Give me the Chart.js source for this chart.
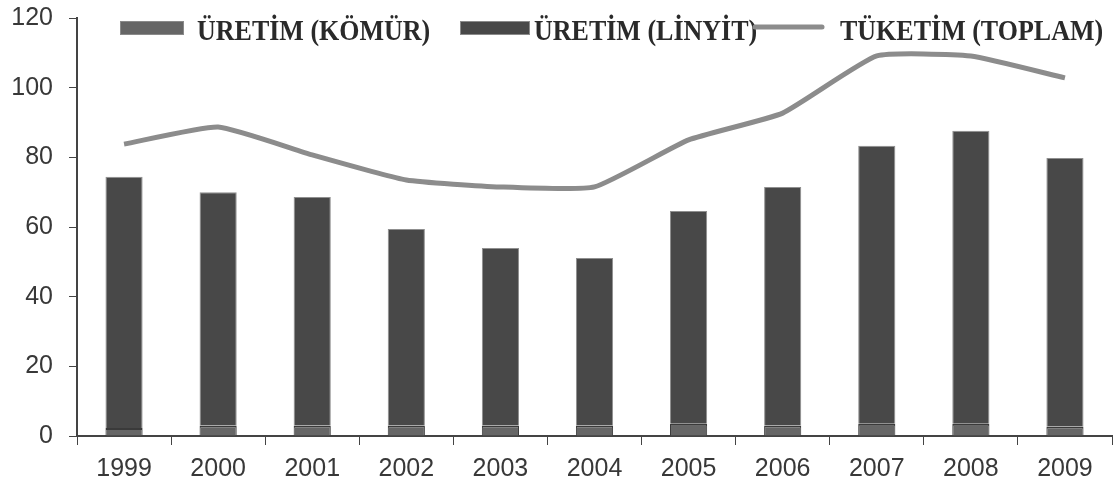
<!DOCTYPE html>
<html>
<head>
<meta charset="utf-8">
<script src="https://cdn.jsdelivr.net/npm/chart.js@4/dist/chart.umd.min.js"></script>
<style>
html,body{margin:0;padding:0;background:#fff;}
#wrap{width:1118px;height:493px;position:relative;}
</style>
</head>
<body>
<div id="wrap"><canvas id="c" width="1118" height="493"></canvas></div>
<script>
const years = ['1999','2000','2001','2002','2003','2004','2005','2006','2007','2008','2009'];
const uretimKomur = [2.3, 3.0, 3.0, 3.0, 3.0, 3.0, 3.5, 3.0, 3.5, 3.5, 2.7];
const uretimLinyit = [72.1, 67.0, 65.6, 56.4, 51.0, 48.1, 61.1, 68.5, 79.8, 84.1, 77.1];
const tuketimToplam = [83.8, 88.7, 80.7, 73.5, 71.5, 71.5, 85.0, 92.7, 109.1, 109.1, 102.8];
const yTicks = [0, 20, 40, 60, 80, 100, 120];

const legendPlugin = {
  id: 'customLegend',
  afterDraw(chart) {
    const ctx = chart.ctx;
    const ds = chart.data.datasets;
    const items = [
      {x: 120, w: 64, tx: 197, type: 'box'},
      {x: 460, w: 70, tx: 534, type: 'box'},
      {x: 755, w: 67, tx: 840, type: 'line'}
    ];
    ctx.save();
    items.forEach((it, i) => {
      const d = ds[i];
      if (it.type === 'box') {
        ctx.fillStyle = d.backgroundColor;
        ctx.fillRect(it.x, 21, it.w, 14);
        ctx.strokeStyle = '#8a8a8a';
        ctx.lineWidth = 1;
        ctx.strokeRect(it.x + 0.5, 21.5, it.w - 1, 13);
      } else {
        ctx.strokeStyle = d.borderColor;
        ctx.lineWidth = 5;
        ctx.lineCap = 'round';
        ctx.beginPath();
        ctx.moveTo(it.x, 27);
        ctx.lineTo(it.x + it.w, 27);
        ctx.stroke();
      }
      ctx.save();
      ctx.font = 'bold 26px "Liberation Serif", "DejaVu Serif", serif';
      ctx.textBaseline = 'alphabetic';
      ctx.textAlign = 'left';
      ctx.fillStyle = '#2a2a2a';
      ctx.translate(it.tx, 40);
      ctx.scale(1, 1.15);
      ctx.fillText(d.label, 0, 0);
      ctx.restore();
    });
    ctx.restore();
  }
};

new Chart(document.getElementById('c'), {
  type: 'bar',
  data: {
    labels: years,
    datasets: [
      {
        label: 'ÜRETİM (KÖMÜR)',
        data: uretimKomur,
        backgroundColor: '#666666',
        borderColor: '#3a3a3a',
        borderWidth: {top: 2, left: 1, right: 1, bottom: 0},
        stack: 's',
        barPercentage: 0.395,
        categoryPercentage: 1,
        order: 2
      },
      {
        label: 'ÜRETİM (LİNYİT)',
        data: uretimLinyit,
        backgroundColor: '#484848',
        borderColor: '#8f8f8f',
        borderWidth: {top: 1, left: 1, right: 1, bottom: 0},
        stack: 's',
        barPercentage: 0.395,
        categoryPercentage: 1,
        order: 2
      },
      {
        label: 'TÜKETİM (TOPLAM)',
        type: 'line',
        data: tuketimToplam,
        borderColor: '#8c8c8c',
        backgroundColor: '#8c8c8c',
        borderWidth: 5,
        pointRadius: 0,
        tension: 0.15,
        fill: false,
        order: 1
      }
    ]
  },
  options: {
    responsive: false,
    animation: false,
    layout: {padding: {top: 18, right: 6, left: 0, bottom: 0}},
    plugins: {legend: {display: false}, tooltip: {enabled: false}},
    scales: {
      x: {
        stacked: true,
        grid: {display: true, drawOnChartArea: false, drawTicks: true, tickLength: 9, color: '#444', offset: true},
        border: {display: true, color: '#444', width: 2},
        ticks: {color: '#383838', font: {family: '"Liberation Sans", Arial, sans-serif', size: 25}, padding: 9, maxRotation: 0},
        afterFit(s) { s.height = 57; s.paddingLeft = 0; s.paddingRight = 0; }
      },
      y: {
        stacked: true,
        min: 0,
        max: 120,
        afterBuildTicks(s) { s.ticks = yTicks.map(v => ({value: v})); },
        grid: {display: true, drawOnChartArea: false, drawTicks: true, tickLength: 8, color: '#444'},
        border: {display: true, color: '#444', width: 2},
        ticks: {color: '#383838', font: {family: '"Liberation Sans", Arial, sans-serif', size: 25}, padding: 16},
        afterFit(s) { s.width = 77; s.paddingTop = 0; s.paddingBottom = 0; }
      }
    }
  },
  plugins: [legendPlugin]
});
</script>
</body>
</html>
